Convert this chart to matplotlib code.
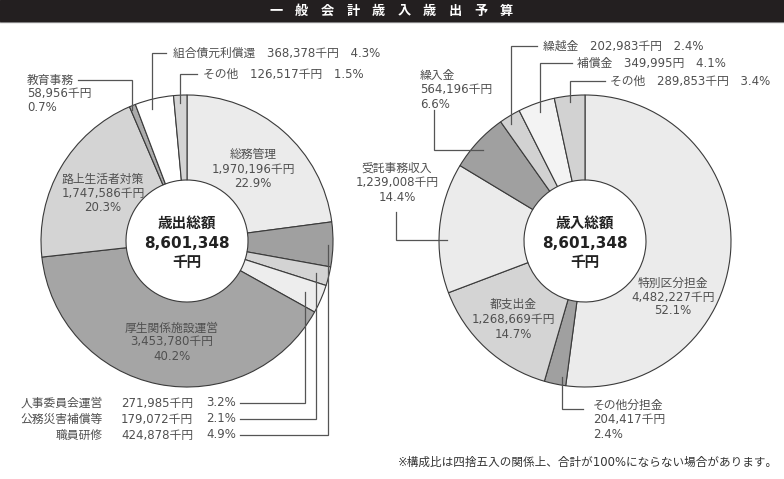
import matplotlib.pyplot as plt
from matplotlib.patches import Rectangle

# digits in the original are wide, so Latin glyphs come from DejaVu, kanji from Noto
plt.rcParams['font.family'] = ['DejaVu Sans', 'Noto Sans CJK JP']

W, H = 784, 479

# 歳出 (left chart), clockwise from 12 o'clock
exp_names = ['総務管理', '職員研修', '公務災害補償等', '人事委員会運営', '厚生関係施設運営',
             '路上生活者対策', '教育事務', '組合債元利償還', 'その他']
exp_values = [1970196, 424878, 179072, 271985, 3453780, 1747586, 58956, 368378, 126517]
exp_pcts = ['22.9%', '4.9%', '2.1%', '3.2%', '40.2%', '20.3%', '0.7%', '4.3%', '1.5%']
exp_colors = ['#ebebeb', '#a0a0a0', '#d3d3d3', '#ededed', '#a5a5a5',
              '#d4d4d4', '#ababab', '#ffffff', '#d4d4d4']

# 歳入 (right chart), clockwise from 12 o'clock
rev_names = ['特別区分担金', 'その他分担金', '都支出金', '受託事務収入', '繰入金',
             '繰越金', '補償金', 'その他']
rev_values = [4482227, 204417, 1268669, 1239008, 564196, 202983, 349995, 289853]
rev_pcts = ['52.1%', '2.4%', '14.7%', '14.4%', '6.6%', '2.4%', '4.1%', '3.4%']
rev_units = ['千円', '千円', '千円', '千円', '千円', '千円', '円', '千円']
rev_colors = ['#ebebeb', '#a0a0a0', '#d4d4d4', '#ebebeb', '#a0a0a0',
              '#d2d2d2', '#f3f3f3', '#d2d2d2']

total_text = '8,601,348'
title = '一般会計歳入歳出予算'
note = '※構成比は四捨五入の関係上、合計が100%にならない場合があります。'

exp_amt = ['{:,}千円'.format(v) for v in exp_values]
rev_amt = ['{:,}{}'.format(v, u) for v, u in zip(rev_values, rev_units)]

TC = '#505050'   # label text colour
LC = '#555555'   # leader line colour
FS = 8.5
R, r = 146, 61

fig = plt.figure(figsize=(W / 100, H / 100), dpi=100)
ax = fig.add_axes([0, 0, 1, 1])


def txt(x, y, s, **kw):
    kw.setdefault('color', TC)
    kw.setdefault('fontsize', FS)
    kw.setdefault('va', 'center')
    ax.text(x, H - y, s, **kw)


def leader(pts):
    ax.plot([p[0] for p in pts], [H - p[1] for p in pts], color=LC, lw=0.9,
            solid_joinstyle='miter')


def block(x, y, lines, ha='center', step=14):
    for i, s in enumerate(lines):
        txt(x, y + i * step, s, ha=ha)


wp = dict(width=R - r, edgecolor='#3a3a3a', linewidth=0.8)
ax.pie(exp_values, colors=exp_colors, startangle=90, counterclock=False,
       radius=R, center=(187, H - 241), wedgeprops=wp, frame=True)
ax.pie(rev_values, colors=rev_colors, startangle=90, counterclock=False,
       radius=R, center=(585, H - 241), wedgeprops=wp, frame=True)

# title bar
ax.add_patch(Rectangle((0, H - 21), W, 21, color='#231f20', zorder=3))
ax.plot([0, W], [H - 22, H - 22], color='#9a9a9a', lw=1)
for i, ch in enumerate(title):
    ax.text(276 + i * 25.6, H - 11, ch, color='white', fontsize=9.5,
            fontweight='bold', ha='center', va='center', zorder=4)

# centre captions
for cx, head in [(187, '歳出総額'), (585, '歳入総額')]:
    txt(cx, 223, head, ha='center', fontsize=10.5, fontweight='bold', color='#222222')
    txt(cx, 243, total_text, ha='center', fontsize=11, fontweight='bold', color='#222222')
    txt(cx, 263, '千円', ha='center', fontsize=10.5, fontweight='bold', color='#222222')

# ---- left chart labels
block(253, 155, [exp_names[0], exp_amt[0], exp_pcts[0]])
block(172, 328, [exp_names[4], exp_amt[4], exp_pcts[4]])
block(103, 179, [exp_names[5], exp_amt[5], exp_pcts[5]])
block(27, 80, [exp_names[6], exp_amt[6], exp_pcts[6]], ha='left', step=13.5)
leader([(78, 80), (132, 80), (132, 110)])

txt(173, 53, '{}　{}　{}'.format(exp_names[7], exp_amt[7], exp_pcts[7]), ha='left')
leader([(166, 53), (152, 53), (152, 109)])
txt(203, 74, '{}　{}　{}'.format(exp_names[8], exp_amt[8], exp_pcts[8]), ha='left')
leader([(197, 74), (180, 74), (180, 103)])

# bottom-left table of small slices
for i, y in zip([3, 2, 1], [403, 419, 435]):
    txt(103, y, exp_names[i], ha='right')
    txt(193, y, exp_amt[i], ha='right')
    txt(236, y, exp_pcts[i], ha='right')
leader([(240, 403), (305, 403), (305, 292)])
leader([(240, 419), (316, 419), (316, 273)])
leader([(240, 435), (328, 435), (328, 245)])

# ---- right chart labels
block(673, 283, [rev_names[0], rev_amt[0], rev_pcts[0]])
block(513, 304, [rev_names[2], rev_amt[2], rev_pcts[2]], step=15)
block(397, 168, [rev_names[3], rev_amt[3], rev_pcts[3]], step=14.5)
leader([(396, 212), (396, 240), (447, 240)])
block(420, 75, [rev_names[4], rev_amt[4], rev_pcts[4]], ha='left', step=14.5)
leader([(434, 110), (434, 150), (483, 150)])
block(593, 405, [rev_names[1], rev_amt[1], rev_pcts[1]], ha='left', step=14.5)
leader([(562, 377), (562, 409), (583, 409)])

txt(543, 46, '{}　{}　{}'.format(rev_names[5], rev_amt[5], rev_pcts[5]), ha='left')
leader([(537, 46), (511, 46), (511, 124)])
txt(577, 63, '{}　{}　{}'.format(rev_names[6], rev_amt[6], rev_pcts[6]), ha='left')
leader([(572, 63), (540, 63), (540, 112)])
txt(610, 81, '{}　{}　{}'.format(rev_names[7], rev_amt[7], rev_pcts[7]), ha='left')
leader([(605, 81), (570, 81), (570, 102)])

txt(398, 462, note, ha='left', fontsize=8.35, color='#333333')

ax.set_xlim(0, W)
ax.set_ylim(0, H)
ax.set_aspect('auto')
ax.axis('off')
fig.savefig('out.png', dpi=100)
